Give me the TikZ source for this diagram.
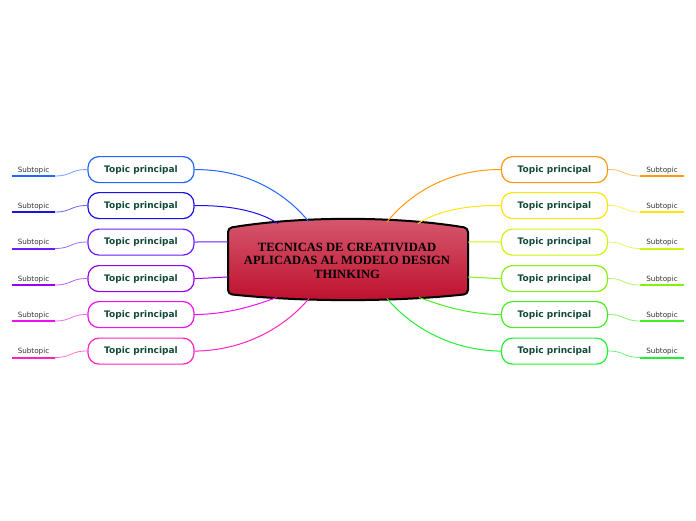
\documentclass[tikz,border=0pt]{standalone}
\usepackage{fontspec}
\setmainfont{Liberation Serif}
\newfontfamily\topicfont{DejaVu Sans}
\definecolor{ctr1}{HTML}{D65A70}
\definecolor{ctr2}{HTML}{BE0F2C}
\definecolor{ttext}{HTML}{124A3A}
\definecolor{stext}{HTML}{333333}
\definecolor{cA}{HTML}{2266FF}
\definecolor{cB}{HTML}{1A10E8}
\definecolor{cC}{HTML}{6A1CFF}
\definecolor{cD}{HTML}{9A00F0}
\definecolor{cE}{HTML}{EE10EE}
\definecolor{cF}{HTML}{FF22BB}
\definecolor{cG}{HTML}{FF9910}
\definecolor{cH}{HTML}{FFE410}
\definecolor{cI}{HTML}{CCF510}
\definecolor{cJ}{HTML}{88EE10}
\definecolor{cK}{HTML}{44EE22}
\definecolor{cL}{HTML}{22EE33}
\tikzset{
  topicbox/.style={draw, line width=1.2pt, rounded corners=11pt, fill=white,
    minimum width=106pt, minimum height=26pt, inner sep=0pt,
    font=\topicfont\bfseries\fontsize{9}{10}\selectfont, text=ttext},
  subbox/.style={minimum width=43pt, minimum height=11pt, inner sep=0pt, anchor=south,
    font=\topicfont\fontsize{7.2}{8}\selectfont, text=stext},
  mainlink/.style={line width=1pt},
  sublink/.style={line width=0.8pt},
  subline/.style={line width=2pt},
}
\begin{document}
\begin{tikzpicture}[x=1pt,y=-1pt]
\useasboundingbox (0,0) rectangle (696,520);
% central shape
\path[draw=black, line width=2pt, top color=ctr1, bottom color=ctr2, rounded corners=4pt]
  (228,228) .. controls (300,216) and (396,216) .. (468,228)
  -- (468,294) .. controls (396,302) and (300,302) .. (228,294) -- cycle;
\node[font=\bfseries\fontsize{12.6}{13.5}\selectfont, align=center, text=black]
  (c) at (347,260.5) {TECNICAS DE CREATIVIDAD\\APLICADAS AL MODELO DESIGN\\THINKING};
% anchor points on central shape
\coordinate (e1) at (309,222);
\coordinate (e2) at (278,223.5);
\coordinate (e3) at (228,242);
\coordinate (e4) at (228,277);
\coordinate (e5) at (277,297.5);
\coordinate (e6) at (309,298.5);
\coordinate (e7) at (387,222);
\coordinate (e8) at (418,223.5);
\coordinate (e9) at (468,242);
\coordinate (e10) at (468,277);
\coordinate (e11) at (419,297.5);
\coordinate (e12) at (387,298.5);
% left topics
\foreach \i/\y/\col/\ca/\cbx/\cby in {1/169/cA/245/285/192, 2/205/cB/235/262/213, 3/241.5/cC/211/215/242, 4/278/cD/211/215/277.5, 5/314/cE/232/258/304, 6/350.5/cF/245/285/327}{
  \node[topicbox, draw=\col] (t\i) at (141,\y+0.6) {Topic principal};
  \draw[mainlink, \col] (t\i.east) .. controls (\ca,\y) and (\cbx,\cby) .. (e\i);
  \node[subbox] (s\i) at (33.5,\y+7) {Subtopic};
  \draw[subline, \col] (s\i.south west) -- (s\i.south east);
  \draw[sublink, \col!65] (s\i.south east) .. controls (72,\y+7) and (71,\y) .. (t\i.west);
}
% right topics
\foreach \i/\y/\col/\ca/\cbx/\cby in {7/169/cG/451/411/192, 8/205/cH/461/434/213, 9/241.5/cI/485/481/242, 10/278/cJ/485/481/277.5, 11/314/cK/464/438/304, 12/350.5/cL/451/411/327}{
  \node[topicbox, draw=\col] (t\i) at (554.5,\y+0.6) {Topic principal};
  \draw[mainlink, \col] (t\i.west) .. controls (\ca,\y) and (\cbx,\cby) .. (e\i);
  \node[subbox] (s\i) at (662,\y+7) {Subtopic};
  \draw[subline, \col] (s\i.south west) -- (s\i.south east);
  \draw[sublink, \col!65] (t\i.east) .. controls (624,\y) and (623,\y+7) .. (s\i.south west);
}
\end{tikzpicture}
\end{document}
